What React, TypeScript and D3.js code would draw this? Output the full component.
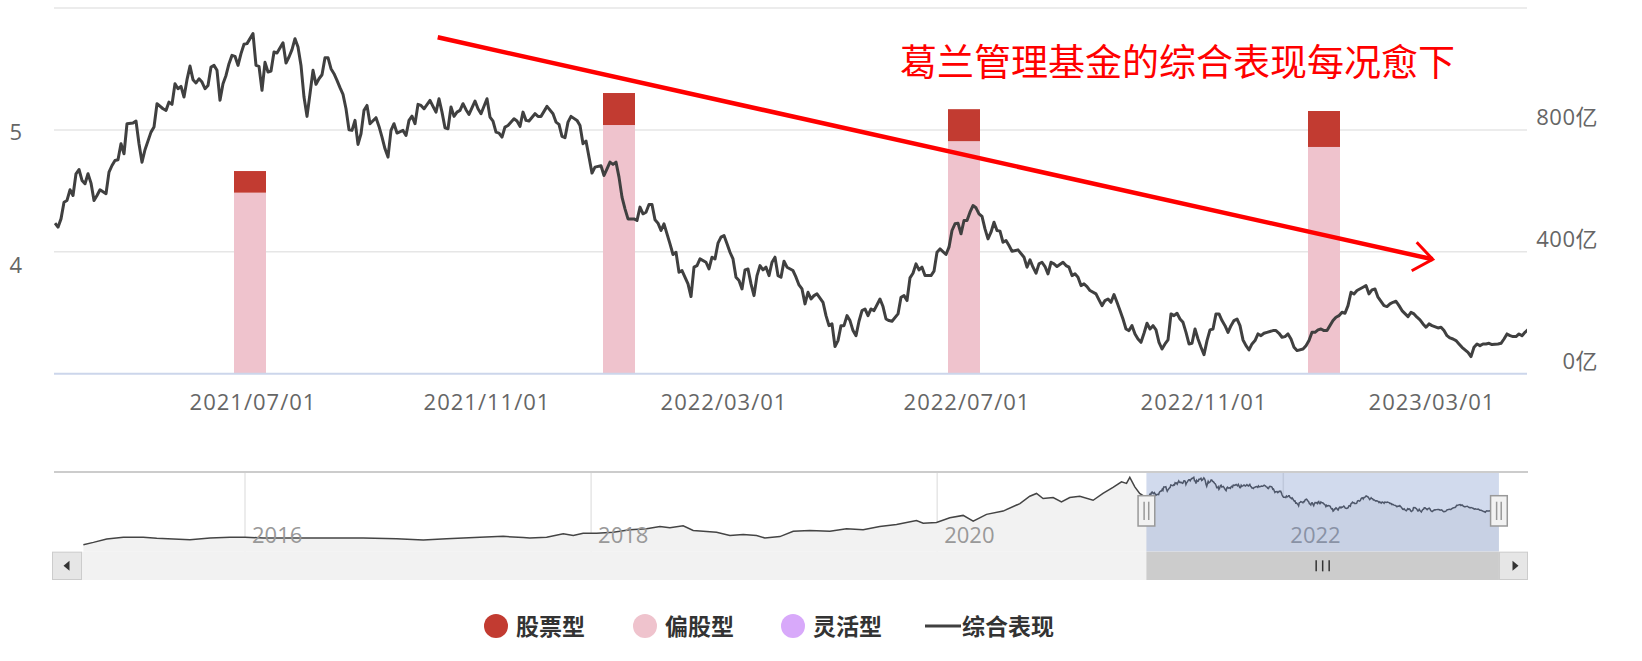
import React from 'react';
import * as d3 from 'd3';

// ---------- DATA ----------
// 综合表现 (trading-day index since 2021-03, composite NAV index)
const navPoints: [number, number][] = [
  [0,4.318],[1,4.288],[2,4.350],[3,4.475],[4,4.488],[5,4.568],[6,4.525],[7,4.688],[8,4.720],[9,4.638],
  [10,4.613],[11,4.688],[12,4.618],[13,4.488],[14,4.525],[15,4.568],[17,4.538],[18,4.700],[19,4.750],[20,4.788],
  [21,4.793],[22,4.913],[23,4.838],[24,5.063],[26,5.068],[27,5.083],[28,4.913],[29,4.775],[30,4.868],[32,5.000],
  [33,5.038],[34,5.213],[36,5.175],[37,5.163],[38,5.225],[39,5.208],[40,5.363],[41,5.325],[42,5.343],[43,5.263],
  [44,5.393],[45,5.495],[46,5.393],[47,5.368],[48,5.400],[49,5.375],[50,5.325],[51,5.350],[52,5.488],[53,5.500],
  [54,5.463],[55,5.238],[56,5.363],[57,5.425],[58,5.513],[59,5.575],[60,5.568],[61,5.500],[62,5.588],[63,5.658],
  [64,5.663],[66,5.738],[67,5.500],[68,5.493],[69,5.313],[70,5.523],[71,5.450],[72,5.458],[73,5.600],[74,5.593],
  [76,5.670],[77,5.518],[78,5.563],[79,5.618],[80,5.700],[81,5.638],[82,5.500],[83,5.263],[84,5.118],[85,5.288],
  [86,5.463],[87,5.358],[88,5.400],[89,5.430],[90,5.558],[91,5.558],[92,5.475],[93,5.438],[94,5.388],[95,5.333],
  [96,5.283],[97,5.175],[98,5.018],[99,5.013],[100,5.088],[101,4.908],[102,4.988],[103,5.163],[104,5.200],[105,5.063],
  [107,5.108],[108,5.043],[109,4.963],[110,4.875],[111,4.813],[112,5.013],[113,5.063],[114,4.993],[116,5.013],[117,4.975],
  [118,5.088],[119,5.120],[120,5.063],[121,5.208],[122,5.200],[123,5.175],[125,5.238],[126,5.193],[127,5.150],[128,5.250],
  [129,5.150],[130,5.033],[131,5.025],[132,5.188],[133,5.118],[134,5.150],[135,5.163],[136,5.213],[137,5.168],[138,5.133],
  [140,5.233],[141,5.175],[142,5.138],[144,5.250],[145,5.113],[146,5.083],[147,5.000],[148,4.993],[149,4.963],[150,5.038],
  [151,5.050],[153,5.100],[154,5.083],[155,5.043],[156,5.150],[157,5.088],[158,5.083],[160,5.138],
  [161,5.118],[162,5.118],[164,5.193],[166,5.138],[167,5.075],[168,5.058],[169,4.968],[170,4.958],[171,5.075],[172,5.118],
  [174,5.088],[175,5.050],[176,4.913],[177,4.933],[178,4.813],[179,4.693],[180,4.738],[182,4.748],[183,4.675],[184,4.725],
  [185,4.775],[186,4.758],[187,4.775],[188,4.663],[189,4.513],[190,4.425],[191,4.350],[193,4.350],[194,4.338],[195,4.438],
  [196,4.388],[197,4.400],[198,4.458],[199,4.458],[200,4.343],[201,4.318],[202,4.263],[203,4.313],[204,4.238],[205,4.163],
  [206,4.083],[207,4.100],[208,3.950],[209,3.963],[211,3.863],[212,3.768],[213,3.988],[214,4.000],[215,4.050],[217,4.025],
  [218,3.975],[219,4.063],[220,4.050],[221,4.168],[222,4.213],[223,4.225],[224,4.163],[225,4.100],[226,4.050],[227,3.913],
  [228,3.888],[229,3.825],[230,3.968],[231,3.975],[232,3.863],[233,3.775],[234,3.925],[235,4.000],[236,3.968],[237,3.988],
  [238,3.925],[239,4.025],[240,4.063],[241,3.925],[242,3.913],[243,4.033],[244,3.988],[246,3.963],[247,3.913],[248,3.855],
  [249,3.825],[250,3.713],[251,3.800],[252,3.750],[253,3.775],[254,3.788],[256,3.725],[257,3.625],[258,3.550],[259,3.563],
  [260,3.393],[261,3.438],[262,3.550],[263,3.550],[264,3.625],[265,3.588],[266,3.513],[267,3.475],[268,3.583],[269,3.663],
  [270,3.675],[271,3.625],[272,3.675],[273,3.663],[275,3.750],[276,3.693],[277,3.600],[278,3.588],[279,3.583],[281,3.638],
  [282,3.763],[283,3.775],[284,3.738],[285,3.908],[286,3.943],[287,4.013],[288,3.968],[289,3.988],[290,3.925],[292,3.925],
  [293,3.958],[294,4.100],[295,4.125],[297,4.083],[298,4.138],[299,4.263],[300,4.313],[301,4.318],[302,4.238],[303,4.338],
  [304,4.338],[305,4.400],[306,4.450],[307,4.433],[308,4.388],[309,4.368],[310,4.275],[311,4.200],[312,4.250],[313,4.325],
  [314,4.263],[315,4.258],[316,4.175],[317,4.188],[318,4.150],[319,4.108],[321,4.118],
  [323,4.063],[324,3.988],[325,4.043],[326,3.988],[327,3.943],[328,4.013],[329,4.025],[330,3.993],[331,3.938],[332,4.025],
  [333,4.013],[334,3.993],[336,4.025],[337,4.000],[338,3.988],[339,3.925],[340,3.938],[341,3.913],[342,3.850],[343,3.863],
  [344,3.843],[345,3.813],[347,3.788],[348,3.743],[349,3.700],[350,3.738],[351,3.750],[352,3.725],[353,3.783],[354,3.725],
  [355,3.663],[356,3.600],[357,3.525],[358,3.513],[359,3.550],[360,3.488],[361,3.450],[362,3.425],[363,3.493],[364,3.568],
  [365,3.525],[366,3.550],[367,3.518],[368,3.425],[369,3.375],[370,3.413],[371,3.443],[372,3.638],[373,3.625],[374,3.643],
  [375,3.600],[376,3.575],[377,3.500],[378,3.413],[379,3.418],[380,3.525],[381,3.450],[382,3.388],[383,3.333],[384,3.438],
  [385,3.518],[386,3.525],[387,3.638],[388,3.638],[389,3.588],[390,3.550],[391,3.500],[392,3.550],[393,3.588],[394,3.600],
  [395,3.550],[396,3.443],[397,3.400],[398,3.368],[399,3.413],[400,3.438],[401,3.488],[402,3.475],[403,3.493],[404,3.500],
  [406,3.513],[407,3.513],[408,3.493],[409,3.463],[410,3.468],[411,3.488],[412,3.450],[413,3.388],[414,3.363],[416,3.375],
  [417,3.400],[418,3.438],[419,3.500],[420,3.500],[421,3.518],[422,3.525],[423,3.513],[424,3.513],[426,3.588],[427,3.613],
  [428,3.625],[429,3.650],[430,3.643],[431,3.700],[432,3.800],[433,3.788],[434,3.813],[436,3.838],[437,3.850],[438,3.788],
  [439,3.818],[440,3.825],[441,3.763],[443,3.700],[444,3.693],[445,3.713],[446,3.725],[447,3.733],[448,3.700],[449,3.663],
  [451,3.618],[452,3.650],[453,3.638],[454,3.613],[455,3.593],[456,3.563],[457,3.538],[458,3.563],[459,3.550],[461,3.533],
  [462,3.538],[463,3.513],[464,3.475],[465,3.458],[466,3.450],[467,3.438],[468,3.413],[469,3.388],[471,3.350],[472,3.318],
  [473,3.388],[474,3.413],[475,3.400],[476,3.413],[477,3.413],[478,3.418],[479,3.408],[481,3.413],[482,3.418],[483,3.450],
  [484,3.488],[485,3.475],[486,3.468],[487,3.468],[488,3.488],[489,3.475],[490,3.500],[491,3.520],
];

// Navigator history before the zoomed range: [year, NAV index]
const navHistory: [number, number][] = [
  [2015.066,1.07],[2015.124,1.23],[2015.201,1.47],[2015.297,1.58],[2015.412,1.58],[2015.490,1.51],[2015.586,1.47],
  [2015.682,1.42],[2015.798,1.54],[2015.913,1.58],[2016.0,1.58],[2016.106,1.54],[2016.299,1.54],[2016.491,1.54],
  [2016.683,1.54],[2016.876,1.49],[2017.030,1.40],[2017.165,1.49],[2017.261,1.54],[2017.358,1.58],[2017.492,1.65],
  [2017.608,1.56],[2017.646,1.54],[2017.743,1.58],[2017.839,1.82],[2017.897,1.70],[2017.954,1.86],[2018.032,1.86],
  [2018.128,1.93],[2018.224,2.10],[2018.321,2.17],[2018.398,2.33],[2018.455,2.24],[2018.532,2.38],[2018.590,2.05],
  [2018.648,2.00],[2018.725,1.93],[2018.802,1.70],[2018.879,1.77],[2018.956,1.70],[2019.004,1.54],[2019.091,1.63],
  [2019.168,2.00],[2019.264,2.05],[2019.380,2.00],[2019.476,2.17],[2019.572,2.10],[2019.668,2.33],[2019.765,2.47],
  [2019.880,2.75],[2019.919,2.56],[2019.996,2.61],[2020.073,2.94],[2020.150,3.10],[2020.208,2.70],[2020.285,3.17],
  [2020.381,3.40],[2020.478,3.92],[2020.535,4.43],[2020.574,4.62],[2020.612,4.27],[2020.670,4.34],[2020.718,4.03],
  [2020.766,4.34],[2020.824,4.43],[2020.901,4.15],[2020.958,4.62],[2021.016,5.04],[2021.065,5.43],[2021.094,5.32],
  [2021.113,5.74],[2021.142,5.08],[2021.170,4.62],
];

// Fund scale (亿) at half-year report dates (trading-day index)
const reportDays = [65, 188, 303, 423];
const stockFund = [71, 105, 105, 118];          // 股票型
const partialStockFund = [594, 816, 763, 744];  // 偏股型
const flexibleFund = [0, 0, 0, 0];              // 灵活型

const xTickDays = [66, 144, 223, 304, 383, 459];
const xTickLabels = ['2021/07/01', '2021/11/01', '2022/03/01', '2022/07/01', '2022/11/01', '2023/03/01'];
const leftTicks = [4, 5];
const rightTicks = [0, 400, 800, 1200];
const rightTickLabels = ['0亿', '400亿', '800亿', ''];
const navYearTicks = [2016, 2018, 2020, 2022];
const selectedRange = [2021.209, 2023.246];

const legendItems = [
  { name: '股票型', color: '#c23b31', type: 'dot' },
  { name: '偏股型', color: '#efc3cd', type: 'dot' },
  { name: '灵活型', color: '#d8a9fa', type: 'dot' },
  { name: '综合表现', color: '#404040', type: 'line' },
];
const annotationTitle = '葛兰管理基金的综合表现每况愈下';

// ---------- LAYOUT ----------
const W = 1642, H = 661;
const plot = { left: 54, right: 1527, top: 8, bottom: 373.7 };
const nav = { left: 54, right: 1528, top: 472, bottom: 551.7, sbBottom: 580 };
const axisFont = "'Open Sans', 'Noto Sans CJK SC', sans-serif";

export default function App() {
  const x = d3.scaleLinear().domain([0, 491]).range([55, 1528]);
  const yL = d3.scaleLinear().domain([3.19, 5.93]).range([plot.bottom, plot.top]);
  const yR = d3.scaleLinear().domain([0, 1200]).range([plot.bottom, plot.top]);

  const mainLine = d3.line<[number, number]>().x(d => x(d[0])).y(d => yL(d[1]))(navPoints) || '';

  const navYear = d3.scaleLinear().domain([2016, 2022]).range([245, 1283.3]);
  const navY = d3.scaleLinear().domain([0.584, 6.108]).range([nav.bottom, nav.top]);
  const selX0 = navYear(selectedRange[0]);
  const selX1 = navYear(selectedRange[1]);
  const navDayX = d3.scaleLinear().domain([0, 491]).range([selX0, selX1]);
  const navPts: [number, number][] = [
    ...navHistory.map(([yr, v]) => [navYear(yr), navY(v)] as [number, number]),
    ...navPoints.map(([d, v]) => [navDayX(d), navY(v)] as [number, number]),
  ];
  const navArea = d3.area<[number, number]>().x(p => p[0]).y0(nav.bottom).y1(p => p[1])(navPts) || '';
  const navLine = d3.line<[number, number]>().x(p => p[0]).y(p => p[1])(navPts) || '';

  const barW = 32;
  const sbTop = nav.bottom, sbH = nav.sbBottom - nav.bottom;
  const sbMid = sbTop + sbH / 2;
  const handleY = 495.7, handleH = 30.3, handleW = 16.7;

  const legendY = 626;
  const legendX = [496, 645, 793, 925];

  // annotation arrow (hand drawn overlay)
  const arrow = { x1: 437.7, y1: 37.3, x2: 1432.7, y2: 259.3 };

  return (
    <svg width={W} height={H} style={{ position: 'absolute', left: 0, top: 0, background: '#fff' }}
      xmlns="http://www.w3.org/2000/svg">
      <rect x={0} y={0} width={W} height={H} fill="#fff" />
      <defs>
        <clipPath id="plotClip">
          <rect x={plot.left} y={plot.top - 5} width={plot.right - plot.left} height={plot.bottom - plot.top + 5} />
        </clipPath>
      </defs>

      {/* grid lines (right axis) */}
      {rightTicks.filter(t => t > 0).map(t => (
        <line key={t} x1={plot.left} x2={plot.right} y1={yR(t)} y2={yR(t)} stroke="#e6e6e6" strokeWidth={1.5} />
      ))}

      {/* stacked bars */}
      {reportDays.map((d, i) => {
        const cx = x(d);
        const base = partialStockFund[i];
        return (
          <g key={d}>
            <rect x={cx - barW / 2} y={yR(base)} width={barW} height={yR(0) - yR(base)} fill="#efc3cd" />
            <rect x={cx - barW / 2} y={yR(base + stockFund[i])} width={barW}
              height={yR(base) - yR(base + stockFund[i])} fill="#c23b31" />
            {flexibleFund[i] > 0 && (
              <rect x={cx - barW / 2} y={yR(base + stockFund[i] + flexibleFund[i])} width={barW}
                height={yR(base + stockFund[i]) - yR(base + stockFund[i] + flexibleFund[i])} fill="#d8a9fa" />
            )}
          </g>
        );
      })}

      {/* main line */}
      <path d={mainLine} fill="none" stroke="#404040" strokeWidth={3} strokeLinejoin="round" clipPath="url(#plotClip)" />

      {/* x axis */}
      <line x1={plot.left} x2={plot.right} y1={plot.bottom} y2={plot.bottom} stroke="#ccd6eb" strokeWidth={2} />
      {xTickDays.map((d, i) => (
        <text key={d} x={x(d)} y={410} textAnchor="middle" fontFamily={axisFont} fontSize={22}
          letterSpacing={1} fill="#666666">{xTickLabels[i]}</text>
      ))}

      {/* left axis labels */}
      {leftTicks.map(t => (
        <text key={t} x={22} y={yL(t) + 7.5} textAnchor="end" fontFamily={axisFont} fontSize={22} fill="#666666">{t}</text>
      ))}
      {/* right axis labels */}
      {rightTicks.map((t, i) => rightTickLabels[i] ? (
        <text key={t} x={1598} y={yR(t) - 4.5} textAnchor="end" fontFamily={axisFont} fontSize={22}
          letterSpacing={0.5} fill="#666666">{rightTickLabels[i]}</text>
      ) : null)}

      {/* annotation */}
      <line x1={arrow.x1} y1={arrow.y1} x2={arrow.x2} y2={arrow.y2} stroke="#ff0000" strokeWidth={4.5} />
      <polyline points={`1416.7,242.3 ${arrow.x2},${arrow.y2} 1411.7,270.7`} fill="none" stroke="#ff0000" strokeWidth={3} />
      <text x={900} y={76} fontFamily="'Noto Sans CJK SC', sans-serif" fontSize={37} fill="#ff0000">{annotationTitle}</text>

      {/* ---------- navigator ---------- */}
      {navYearTicks.map(yr => (
        <line key={yr} x1={navYear(yr)} x2={navYear(yr)} y1={nav.top} y2={nav.bottom} stroke="#e6e6e6" strokeWidth={1.5} />
      ))}
      <path d={navArea} fill="#f2f2f2" />
      <path d={navLine} fill="none" stroke="#444" strokeWidth={1.5} />
      {navYearTicks.map(yr => (
        <text key={yr} x={navYear(yr) + 7} y={543} fontFamily={axisFont} fontSize={22} fill="#999999">{yr}</text>
      ))}
      <rect x={selX0} y={nav.top} width={selX1 - selX0} height={nav.bottom - nav.top} fill="rgba(102,133,194,0.3)" />
      <line x1={nav.left} x2={nav.right} y1={nav.top} y2={nav.top} stroke="#cccccc" strokeWidth={2} />

      {/* scrollbar */}
      <rect x={52} y={sbTop} width={nav.right - 52} height={sbH} fill="#f2f2f2" />
      <rect x={selX0} y={sbTop} width={selX1 - selX0} height={sbH} fill="#cccccc" />
      {[-6.5, 0, 6.5].map(o => (
        <line key={o} x1={(selX0 + selX1) / 2 + o} x2={(selX0 + selX1) / 2 + o} y1={sbMid - 5.5} y2={sbMid + 5.5}
          stroke="#333" strokeWidth={1.5} />
      ))}
      <rect x={52.5} y={sbTop + 0.5} width={29} height={sbH - 1} fill="#e6e6e6" stroke="#cccccc" strokeWidth={1} />
      <path d={`M${63.5},${sbMid} L${69.5},${sbMid - 5} L${69.5},${sbMid + 5} Z`} fill="#333" />
      <rect x={1499.5} y={sbTop + 0.5} width={28} height={sbH - 1} fill="#e6e6e6" stroke="#cccccc" strokeWidth={1} />
      <path d={`M${1518.5},${sbMid} L${1512.5},${sbMid - 5} L${1512.5},${sbMid + 5} Z`} fill="#333" />

      {/* handles */}
      {[selX0, selX1].map((hx, i) => (
        <g key={i}>
          <rect x={hx - handleW / 2} y={handleY} width={handleW} height={handleH} fill="#f2f2f2" stroke="#999999" strokeWidth={1.5} />
          <line x1={hx - 2.3} x2={hx - 2.3} y1={handleY + 6} y2={handleY + handleH - 6} stroke="#999999" strokeWidth={1.5} />
          <line x1={hx + 2.3} x2={hx + 2.3} y1={handleY + 6} y2={handleY + handleH - 6} stroke="#999999" strokeWidth={1.5} />
        </g>
      ))}

      {/* legend */}
      {legendItems.map((it, i) => (
        <g key={it.name}>
          {it.type === 'dot'
            ? <circle cx={legendX[i]} cy={legendY} r={12} fill={it.color} />
            : <line x1={legendX[i]} x2={legendX[i] + 36} y1={legendY} y2={legendY} stroke={it.color} strokeWidth={3} />}
          <text x={it.type === 'dot' ? legendX[i] + 20 : legendX[i] + 37} y={legendY + 8.5}
            fontFamily="'Noto Sans CJK SC', sans-serif" fontWeight={700} fontSize={23} fill="#333333">{it.name}</text>
        </g>
      ))}
    </svg>
  );
}
